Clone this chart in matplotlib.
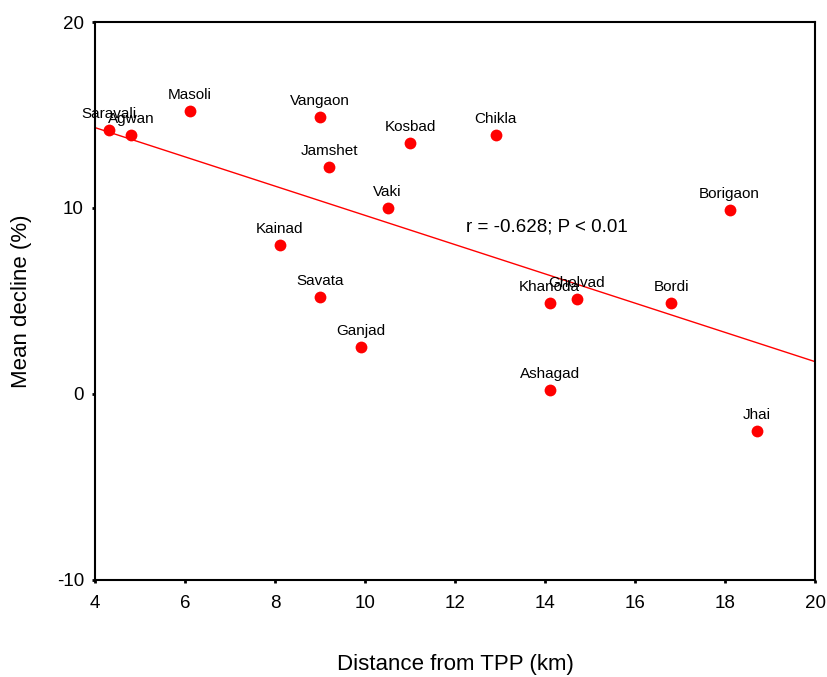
import numpy as np
import matplotlib.pyplot as plt

plt.rcParams['font.family'] = ['Liberation Sans', 'DejaVu Sans']
plt.rcParams['axes.unicode_minus'] = False

# villages, distance from TPP (km) and mean decline (%)
villages = ['Saravali', 'Agwan', 'Masoli', 'Vangaon', 'Jamshet', 'Kosbad', 'Chikla',
            'Vaki', 'Kainad', 'Savata', 'Ganjad', 'Khanoda', 'Gholvad', 'Ashagad',
            'Bordi', 'Borigaon', 'Jhai']
distance = [4.3, 4.8, 6.1, 9.0, 9.2, 11.0, 12.9, 10.5, 8.1, 9.0, 9.9, 14.1, 14.7, 14.1,
            16.8, 18.1, 18.7]
decline = [14.2, 13.9, 15.2, 14.9, 12.2, 13.5, 13.9, 10.0, 8.0, 5.2, 2.5, 4.9, 5.1, 0.2,
           4.9, 9.9, -2.0]

x = np.array(distance)
y = np.array(decline)

fig = plt.figure(figsize=(8.27, 6.77), dpi=100)
ax = fig.add_axes([0.115, 0.1433, 0.8705, 0.8242])

# regressielijn
slope, intercept = np.polyfit(x, y, 1)
xl = np.array([4, 20])
ax.plot(xl, intercept + slope * xl, color='red', lw=1)

ax.plot(x, y, 'o', color='red', markersize=8.5, markeredgewidth=0, zorder=3)
for name, xi, yi in zip(villages, x, y):
    ax.annotate(name, (xi, yi), xytext=(0, 6.5), textcoords='offset points',
                ha='center', va='bottom', fontsize=11)

ax.text(14.05, 9.0, 'r = -0.628; P < 0.01', ha='center', va='center', fontsize=13.5)

ax.set_xlim(4, 20)
ax.set_ylim(-10, 20)
ax.set_xticks([4, 6, 8, 10, 12, 14, 16, 18, 20])
ax.set_yticks([-10, 0, 10, 20])
ax.tick_params(labelsize=13.5, length=2, width=2)
ax.tick_params(axis='x', pad=9)
ax.tick_params(axis='y', pad=6)
for s in ax.spines.values():
    s.set_linewidth(1.5)

ax.set_xlabel('Distance from TPP (km)', fontsize=16, labelpad=30)
ax.set_ylabel('Mean decline (%)', fontsize=16, labelpad=18)

fig.savefig('out.png', dpi=100)
